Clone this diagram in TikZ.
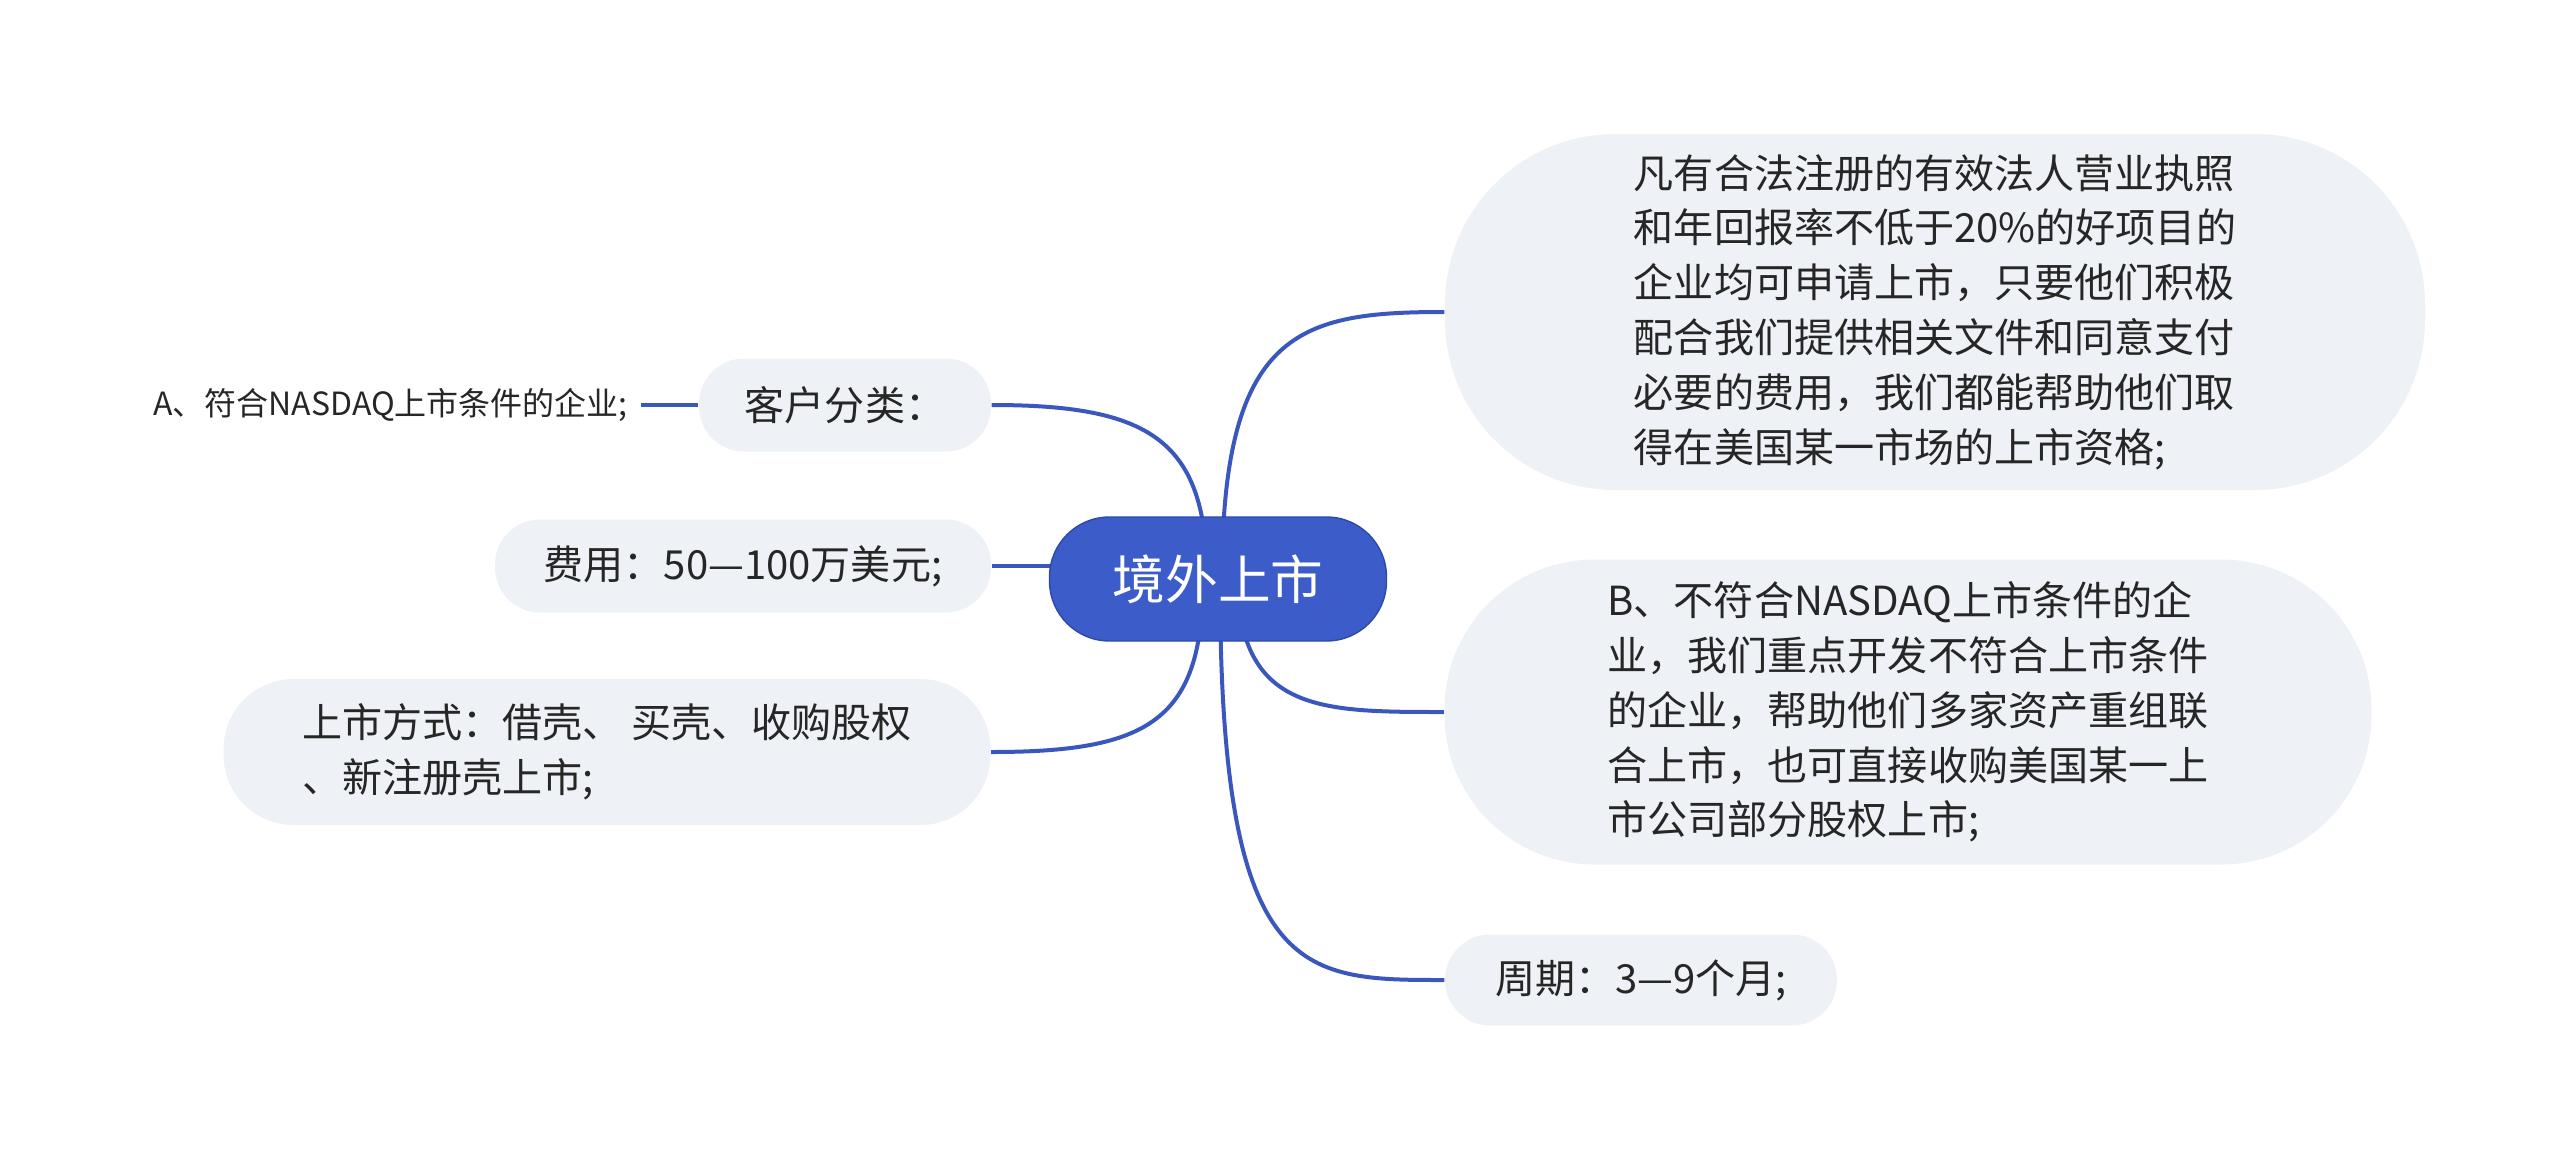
\documentclass[tikz,border=0pt]{standalone}
\usepackage{fontspec}
\setmainfont{Noto Sans CJK SC}
\usetikzlibrary{positioning,backgrounds}
\definecolor{rootblue}{RGB}{59,92,201}
\definecolor{rootedge}{RGB}{44,74,168}
\definecolor{linkblue}{RGB}{57,87,189}
\definecolor{leafgray}{RGB}{238,241,245}
\definecolor{inkgray}{RGB}{38,38,38}

\begin{document}
\begin{tikzpicture}[x=0.1mm,y=-0.1mm,
    root/.style={draw=rootedge,fill=rootblue,text=white,rounded corners=6mm,minimum width=33.7mm,minimum height=12.4mm,font=\fontsize{15pt}{18pt}\selectfont},
    leaf/.style={fill=leafgray,text=inkgray,rounded corners=#1,align=left,inner sep=0pt,font=\fontsize{11.4pt}{15.6pt}\selectfont},
    leaf/.default=4.5mm,
    link/.style={draw=linkblue,line width=0.4mm}]
    \useasboundingbox (0,0) rectangle (2560,1159);
    \node[root] (root) at (1218,579) {境外上市};
    % right side
    \node[leaf=17mm,minimum width=98mm,minimum height=35.6mm] (reach) at (1935,312) {凡有合法注册的有效法人营业执照\\和年回报率不低于20\%的好项目的\\企业均可申请上市，只要他们积极\\配合我们提供相关文件和同意支付\\必要的费用，我们都能帮助他们取\\得在美国某一市场的上市资格;};
    \node[leaf=15mm,minimum width=92.7mm,minimum height=30.5mm] (merge) at (1908,712) {B、不符合NASDAQ上市条件的企\\业，我们重点开发不符合上市条件\\的企业，帮助他们多家资产重组联\\合上市，也可直接收购美国某一上\\市公司部分股权上市;};
    \node[leaf,minimum width=39.2mm,minimum height=9.1mm] (cycle) at (1641,980) {周期：3—9个月;};
    % left side
    \node[leaf,minimum width=29.2mm,minimum height=9.3mm] (sort) at (845,405) {客户分类：};
    \node[text=inkgray,inner ysep=0pt,inner xsep=1.3mm,left=5.7mm of sort,font=\fontsize{9.1pt}{11pt}\selectfont] (fitA) {A、符合NASDAQ上市条件的企业;};
    \node[leaf,minimum width=49.6mm,minimum height=9.3mm] (fee) at (743,566) {费用：50—100万美元;};
    \node[leaf=7mm,minimum width=76.7mm,minimum height=14.6mm] (way) at (607,752) {上市方式：借壳、 买壳、收购股权\\、新注册壳上市;};
    \begin{scope}[on background layer]
      \draw[link] ([xshift=0.4mm]root.center) .. controls (1222,330) and (1300,312) .. (reach.west);
      \draw[link] ([xshift=1.9mm]root.center) .. controls (1240,712) and (1320,712) .. (merge.west);
      \draw[link] ([xshift=0.2mm]root.center) .. controls (1220,980) and (1300,980) .. (cycle.west);
      \draw[link] (sort.east) .. controls (1150,405) and (1207,440) .. ([xshift=-1.1mm]root.center);
      \draw[link] (fee.east) -- (fee.east -| root.center);
      \draw[link] (way.east) .. controls (1150,752) and (1203,720) .. ([xshift=-1.5mm]root.center);
    \end{scope}
    \draw[link] (fitA.east) -- (sort.west);
\end{tikzpicture}
\end{document}
